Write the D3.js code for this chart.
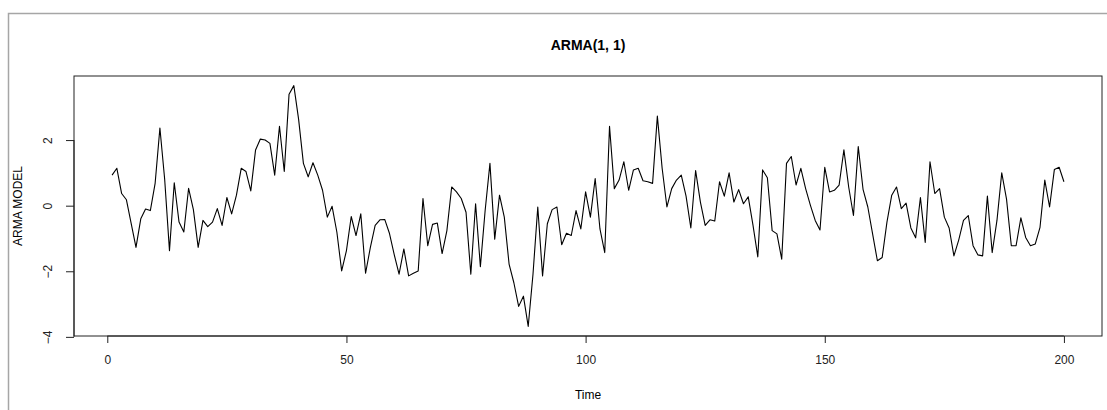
<!DOCTYPE html>
<html>
<head>
<meta charset="utf-8">
<script src="https://cdn.jsdelivr.net/npm/d3@7"></script>
<style>
  body { margin: 0; background: #fff; }
  svg { display: block; }
</style>
</head>
<body>
<div id="container"></div>
<script>
const width = 1107, height = 410;
const margin = ({top: 76, right: 5, bottom: 74, left: 74});

const title = "ARMA(1, 1)";
const xLabel = "Time";
const yLabel = "ARMA MODEL";
const xTicks = [0, 50, 100, 150, 200];
const yTicks = [-4, -2, 0, 2];

// simulated ARMA(1,1) series, t = 1..200
const series = [
    0.93, 1.14, 0.37, 0.18, -0.55, -1.27, -0.4, -0.1, -0.15, 0.68,
    2.37, 0.8, -1.37, 0.7, -0.5, -0.8, 0.53, -0.12, -1.27, -0.45,
    -0.64, -0.5, -0.09, -0.6, 0.25, -0.25, 0.32, 1.14, 1.04, 0.45,
    1.7, 2.03, 2.0, 1.9, 0.93, 2.42, 1.04, 3.4, 3.66, 2.63,
    1.29, 0.88, 1.31, 0.93, 0.47, -0.35, -0.02, -0.81, -1.99, -1.37,
    -0.33, -0.91, -0.25, -2.06, -1.27, -0.6, -0.43, -0.42, -0.85, -1.5,
    -2.09, -1.32, -2.14, -2.06, -1.99, 0.22, -1.22, -0.57, -0.53, -1.46,
    -0.76, 0.57, 0.42, 0.22, -0.2, -2.09, 0.06, -1.86, -0.14, 1.29,
    -1.02, 0.32, -0.35, -1.78, -2.35, -3.07, -2.76, -3.68, -2.09, -0.04,
    -2.14, -0.55, -0.12, -0.04, -1.19, -0.84, -0.91, -0.15, -0.71, 0.42,
    -0.35, 0.83, -0.71, -1.43, 2.42, 0.52, 0.78, 1.34, 0.47, 1.09,
    1.14, 0.76, 0.73, 0.68, 2.73, 1.14, -0.04, 0.52, 0.78, 0.93,
    0.29, -0.68, 1.07, 0.11, -0.6, -0.43, -0.47, 0.73, 0.29, 1.0,
    0.11, 0.49, 0.06, 0.27, -0.6, -1.56, 1.09, 0.85, -0.76, -0.86,
    -1.63, 1.29, 1.5, 0.63, 1.14, 0.52, 0.01, -0.45, -0.74, 1.17,
    0.42, 0.47, 0.63, 1.7, 0.57, -0.3, 1.8, 0.5, -0.04, -0.86,
    -1.68, -1.58, -0.5, 0.32, 0.57, -0.09, 0.08, -0.68, -0.98, 0.25,
    -1.12, 1.34, 0.37, 0.52, -0.35, -0.68, -1.53, -1.05, -0.45, -0.3,
    -1.22, -1.5, -1.53, 0.29, -1.43, -0.45, 1.0, 0.2, -1.22, -1.22,
    -0.37, -0.97, -1.22, -1.17, -0.66, 0.78, -0.04, 1.1, 1.17, 0.73
];
const data = series.map((v, i) => ({t: i + 1, v: v}));

// R style axis range: extend the data range by 4% on each side
function padded(ext) {
    const d = (ext[1] - ext[0]) * 0.04;
    return [ext[0] - d, ext[1] + d];
}

const svg = d3.select("#container").append("svg")
    .attr("width", width)
    .attr("height", height)
    .attr("font-family", "'Liberation Sans', Arial, sans-serif");

svg.append("rect")
    .attr("width", width).attr("height", height)
    .attr("fill", "#fff");

// grey window frame
svg.append("rect")
    .attr("x", 8.5).attr("y", 13.5)
    .attr("width", width + 20).attr("height", height + 20)
    .attr("fill", "none")
    .attr("stroke", "#a6a6a6")
    .attr("stroke-width", 1.5);

const x = d3.scaleLinear()
    .domain(padded(d3.extent(data, d => d.t)))
    .range([margin.left, width - margin.right]);
const y = d3.scaleLinear()
    .domain(padded(d3.extent(data, d => d.v)))
    .range([height - margin.bottom, margin.top]);

const line = d3.line()
    .x(d => x(d.t))
    .y(d => y(d.v));

svg.append("path")
    .datum(data)
    .attr("fill", "none")
    .attr("stroke", "#000")
    .attr("stroke-width", 1.1)
    .attr("stroke-linejoin", "round")
    .attr("d", line);

// x axis
const gx = svg.append("g")
    .attr("transform", `translate(0,${height - margin.bottom})`)
    .call(d3.axisBottom(x).tickValues(xTicks).tickSize(7).tickPadding(12).tickFormat(d3.format("d")));
gx.select(".domain").attr("d", `M${x(xTicks[0])},0H${x(xTicks[xTicks.length - 1])}`);

// y axis, labels parallel to axis like R
const gy = svg.append("g")
    .attr("transform", `translate(${margin.left},0)`)
    .call(d3.axisLeft(y).tickValues(yTicks).tickSize(8).tickFormat(d3.format("d")));
gy.select(".domain").attr("d", `M0,${y(yTicks[0])}V${y(yTicks[yTicks.length - 1])}`);
gy.selectAll(".tick text")
    .attr("x", 0).attr("dy", null)
    .attr("text-anchor", "middle")
    .attr("transform", "translate(-22,0) rotate(-90)");

svg.selectAll(".tick text")
    .attr("font-size", 12)
    .attr("fill", "#222");
svg.selectAll(".domain, .tick line").attr("stroke", "#222");

// plot box
svg.append("rect")
    .attr("x", margin.left).attr("y", margin.top)
    .attr("width", width - margin.right - margin.left)
    .attr("height", height - margin.bottom - margin.top)
    .attr("fill", "none")
    .attr("stroke", "#222")
    .attr("stroke-width", 1);

svg.append("text")
    .attr("x", (margin.left + width - margin.right) / 2)
    .attr("y", 50)
    .attr("text-anchor", "middle")
    .attr("font-size", 14)
    .attr("font-weight", "bold")
    .text(title);

svg.append("text")
    .attr("x", (margin.left + width - margin.right) / 2)
    .attr("y", 399)
    .attr("text-anchor", "middle")
    .attr("font-size", 12)
    .text(xLabel);

svg.append("text")
    .attr("transform", `translate(22,${(margin.top + height - margin.bottom) / 2}) rotate(-90)`)
    .attr("text-anchor", "middle")
    .attr("font-size", 12)
    .text(yLabel);
</script>
</body>
</html>
